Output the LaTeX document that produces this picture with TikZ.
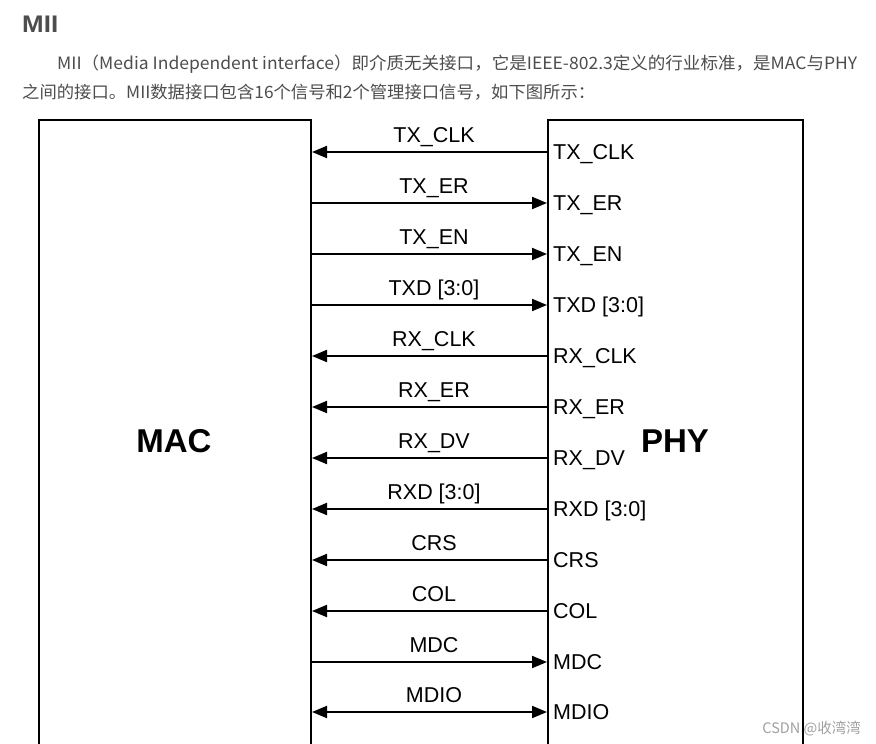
\documentclass[tikz,border=0pt]{standalone}
\usepackage{fontspec}
\setmainfont{Liberation Sans}
\newfontfamily\cjk{Noto Sans CJK SC}
\usetikzlibrary{arrows.meta}
\definecolor{txtgray}{HTML}{4D4D4D}
\definecolor{wmgray}{HTML}{A0A0A0}
\begin{document}
\begin{tikzpicture}[x=1pt,y=-1pt,
  boxstyle/.style={draw=black,line width=2pt,rectangle,inner sep=0pt,anchor=north west},
  sig/.style={line width=2pt,-{Triangle[length=15pt,width=12pt]}},
  sigl/.style={line width=2pt,{Triangle[length=15pt,width=12pt]}-},
  sigb/.style={line width=2pt,{Triangle[length=15pt,width=12pt]}-{Triangle[length=15pt,width=12pt]}},
  toplbl/.style={anchor=base,font=\fontsize{21.5}{24}\selectfont,inner sep=0pt},
  phylbl/.style={anchor=base west,font=\fontsize{21.5}{24}\selectfont,inner sep=0pt},
  bigl/.style={anchor=base,font=\fontsize{33}{36}\selectfont\bfseries,inner sep=0pt},
  para/.style={anchor=base west,inner sep=0pt,text=txtgray,font=\cjk\fontsize{17}{19}\selectfont}]
\useasboundingbox (0,0) rectangle (876,744);
\clip (0,0) rectangle (876,744);
\fill[white] (0,0) rectangle (876,744);
% heading and paragraph
\node[anchor=base west,inner sep=0pt,text=txtgray,font=\fontsize{24}{26}\selectfont\bfseries] (head) at (22,32) {\resizebox{36pt}{\height}{MII}};
\node[para] (p1) at (57,70) {\resizebox{800pt}{\height}{MII（Media Independent interface）即介质无关接口，它是IEEE-802.3定义的行业标准，是MAC与PHY}};
\node[para] (p2) at (22,98) {\resizebox{573pt}{\height}{之间的接口。MII数据接口包含16个信号和2个管理接口信号，如下图所示：}};
% boxes
\node[boxstyle,minimum width=272pt,minimum height=700pt] (mac) at (38,119) {};
\node[boxstyle,minimum width=255pt,minimum height=700pt] (phy) at (547,119) {};
\node[bigl] (macl) at (174,452) {MAC};
\node[bigl] (phyl) at (675,452) {PHY};
% signals
\foreach \y/\name/\st [count=\i] in {
  152/TX\_CLK/sigl, 203/TX\_ER/sig, 254/TX\_EN/sig, 305/TXD [3:0]/sig,
  356/RX\_CLK/sigl, 407/RX\_ER/sigl, 458/RX\_DV/sigl, 509/RXD [3:0]/sigl,
  560/CRS/sigl, 611/COL/sigl, 662/MDC/sig, 712/MDIO/sigb}{
  \coordinate (ma\i) at (mac.east |- 0,\y);
  \coordinate (ph\i) at (phy.west |- 0,\y);
  \draw[\st] (ma\i) -- (ph\i);
  \node[toplbl] (tl\i) at (434,\y-10) {\name};
  \node[phylbl] (pl\i) at (553,\y+7) {\name};
}
% watermark
\node[anchor=base east,inner sep=0pt,text=wmgray,font=\cjk\fontsize{14.5}{16}\selectfont] (wm) at (861,733) {CSDN @收湾湾};
\end{tikzpicture}
\end{document}
